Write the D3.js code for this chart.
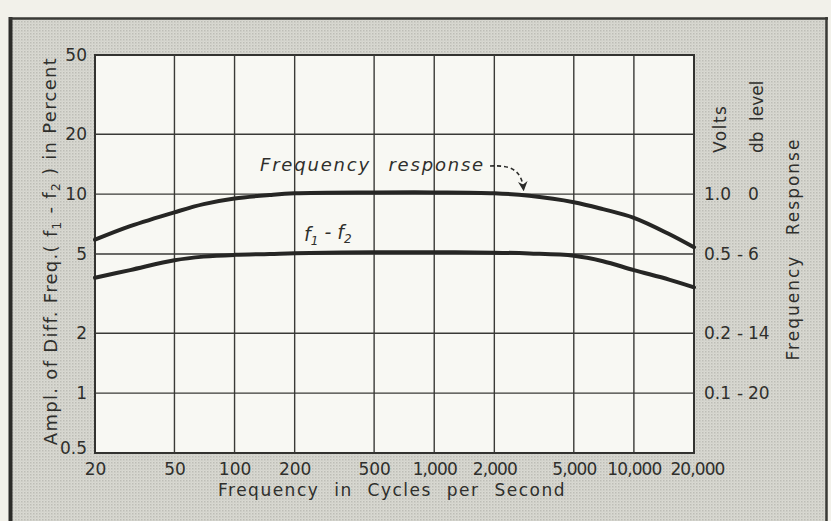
<!DOCTYPE html>
<html>
<head>
<meta charset="utf-8">
<script src="https://cdn.jsdelivr.net/npm/d3@7"></script>
<style>
  html, body { margin: 0; padding: 0; background: #f2f1ea; }
  svg { display: block; }
  text { font-family: "DejaVu Sans", sans-serif; fill: #2f2f2c; }
</style>
</head>
<body>
<svg id="chart" width="831" height="521"></svg>
<script>
// Frequency (cycles per second) at which the two curves were read
const frequencies = [20, 30, 50, 70, 100, 150, 200, 500, 1000, 2000, 3000, 5000, 7000, 10000, 15000, 20000];
// Overall frequency response, percent scale
const responseValues = [5.9, 6.9, 8.1, 8.9, 9.5, 9.9, 10.1, 10.2, 10.2, 10.1, 9.8, 9.1, 8.4, 7.6, 6.3, 5.4];
// Amplitude of the difference frequency f1 - f2, percent
const diffValues = [3.8, 4.15, 4.65, 4.85, 4.95, 5.0, 5.05, 5.1, 5.1, 5.08, 5.03, 4.9, 4.6, 4.15, 3.72, 3.4];

const xTicks = [20, 50, 100, 200, 500, 1000, 2000, 5000, 10000, 20000];
const yTicks = [50, 20, 10, 5, 2, 1, 0.5];
// Right-hand scale: volts and db level at the percent gridlines
const rightTickValues = [10, 5, 2, 1];
const voltLabels = ["1.0", "0.5", "0.2", "0.1"];
const dbLevels = [0, -6, -14, -20];

const svg = d3.select("#chart");
const W = 831, H = 521;

// halftone screen used for the panel tint
const defs = svg.append("defs");
const pat = defs.append("pattern")
  .attr("id", "screen").attr("width", 3).attr("height", 3)
  .attr("patternUnits", "userSpaceOnUse");
pat.append("rect").attr("width", 3).attr("height", 3).attr("fill", "#d9d9d2");
pat.append("rect").attr("x", 0).attr("y", 0).attr("width", 1.5).attr("height", 1.5).attr("fill", "#bdbdb6");
pat.append("rect").attr("x", 1.5).attr("y", 1.5).attr("width", 1).attr("height", 1).attr("fill", "#c9c9c2");

defs.append("marker")
  .attr("id", "arrowhead").attr("viewBox", "0 0 10 10")
  .attr("refX", 8).attr("refY", 5)
  .attr("markerWidth", 6).attr("markerHeight", 6)
  .attr("orient", "auto")
  .append("path").attr("d", "M0,0 L10,5 L0,10 L3,5 Z").attr("fill", "#2a2a28");

// panel
svg.append("rect").attr("x", 11).attr("y", 18.5).attr("width", 815).attr("height", 540)
  .attr("fill", "url(#screen)");
svg.append("line").attr("x1", 10.5).attr("x2", 10.5).attr("y1", 17).attr("y2", H + 5)
  .attr("stroke", "#2b2b28").attr("stroke-width", 4);
svg.append("line").attr("x1", 9).attr("x2", 828).attr("y1", 18.5).attr("y2", 18.5)
  .attr("stroke", "#3a3a36").attr("stroke-width", 2.5);
svg.append("line").attr("x1", 826.5).attr("x2", 826.5).attr("y1", 17).attr("y2", H + 5)
  .attr("stroke", "#3a3a36").attr("stroke-width", 2.5);

const x = d3.scaleLog().domain([20, 20000]).range([95, 694]);
const y = d3.scaleLog().domain([0.5, 50]).range([453, 55]);

// plotting area
svg.append("rect")
  .attr("x", x.range()[0]).attr("y", y.range()[1])
  .attr("width", x.range()[1] - x.range()[0]).attr("height", y.range()[0] - y.range()[1])
  .attr("fill", "#f8f8f3").attr("stroke", "#333330").attr("stroke-width", 2);

// grid
const grid = svg.append("g").attr("stroke", "#3a3a37").attr("stroke-width", 1.4);
grid.selectAll("line.v").data(xTicks.slice(1, -1)).join("line")
  .attr("x1", d => x(d)).attr("x2", d => x(d))
  .attr("y1", y.range()[1]).attr("y2", y.range()[0]);
grid.selectAll("line.h").data(yTicks.slice(1, -1)).join("line")
  .attr("x1", x.range()[0]).attr("x2", x.range()[1])
  .attr("y1", d => y(d)).attr("y2", d => y(d));

// bottom axis labels
const xAxis = d3.axisBottom(x).tickValues(xTicks).tickSize(0).tickPadding(10)
  .tickFormat(d3.format(","));
const gx = svg.append("g").attr("transform", `translate(0,${y.range()[0]})`).call(xAxis);
gx.select(".domain").remove();
gx.selectAll("text").attr("font-size", 17).attr("fill", "#2f2f2c")
  .attr("font-family", "DejaVu Sans, sans-serif")
  .attr("letter-spacing", d => d >= 1000 ? -0.9 : 0);
gx.selectAll(".tick").filter(d => d === 20000).select("text").attr("x", 3);

// left axis labels
const yAxis = d3.axisLeft(y).tickValues(yTicks).tickSize(0).tickPadding(8)
  .tickFormat(d => String(d));
const gy = svg.append("g").attr("transform", `translate(${x.range()[0]},0)`).call(yAxis);
gy.select(".domain").remove();
gy.selectAll("text").attr("font-size", 17).attr("fill", "#2f2f2c")
  .attr("font-family", "DejaVu Sans, sans-serif");
gy.selectAll(".tick").filter(d => d === 0.5).select("text").attr("dy", "0.05em");

// right-hand volts / db scale
const right = svg.append("g");
right.selectAll("text.volt").data(rightTickValues).join("text")
  .attr("class", "volt").attr("x", 704).attr("y", d => y(d)).attr("dy", "0.35em")
  .attr("font-size", 17).text((d, i) => voltLabels[i]);
right.selectAll("text.dbsign").data(rightTickValues.filter((d, i) => dbLevels[i] < 0)).join("text")
  .attr("class", "dbsign").attr("x", 737).attr("y", d => y(d)).attr("dy", "0.35em")
  .attr("font-size", 17).text("-");
right.selectAll("text.db").data(rightTickValues).join("text")
  .attr("class", "db").attr("x", 748).attr("y", d => y(d)).attr("dy", "0.35em")
  .attr("font-size", 17).text((d, i) => Math.abs(dbLevels[i]));

right.append("text").attr("transform", "translate(720,153) rotate(-90)").attr("dy", "0.35em")
  .attr("font-size", 17).attr("letter-spacing", 1.5).text("Volts");
right.append("text").attr("transform", "translate(757,153) rotate(-90)").attr("dy", "0.35em")
  .attr("font-size", 17).attr("word-spacing", 5).text("db level");
right.append("text").attr("transform", "translate(793,249) rotate(-90)").attr("dy", "0.35em")
  .attr("text-anchor", "middle").attr("font-size", 17).attr("letter-spacing", 2)
  .attr("word-spacing", 12).text("Frequency Response");

// axis titles
const ytitle = svg.append("text").attr("transform", "translate(51,251) rotate(-90)")
  .attr("dy", "0.35em").attr("text-anchor", "middle").attr("font-size", 18).attr("letter-spacing", 1.3);
ytitle.append("tspan").text("Ampl. of Diff. Freq.( f");
ytitle.append("tspan").attr("font-size", 12).attr("dy", "0.3em").text("1");
ytitle.append("tspan").attr("dy", "-0.25em").text(" - f");
ytitle.append("tspan").attr("font-size", 12).attr("dy", "0.3em").text("2");
ytitle.append("tspan").attr("dy", "-0.25em").text(" ) in Percent");

svg.append("text").attr("x", 392).attr("y", 490).attr("dy", "0.35em")
  .attr("text-anchor", "middle").attr("font-size", 17).attr("letter-spacing", 1.5)
  .attr("word-spacing", 8).text("Frequency in Cycles per Second");

// curves
const line = d3.line().x((d, i) => x(frequencies[i])).y(d => y(d)).curve(d3.curveCatmullRom.alpha(0.5));
svg.append("path").datum(responseValues).attr("d", line)
  .attr("fill", "none").attr("stroke", "#262624").attr("stroke-width", 4).attr("stroke-linecap", "round");
svg.append("path").datum(diffValues).attr("d", line)
  .attr("fill", "none").attr("stroke", "#262624").attr("stroke-width", 4).attr("stroke-linecap", "round");

// curve labels
svg.append("text").attr("x", 260).attr("y", 165).attr("dy", "0.35em")
  .attr("font-size", 18).attr("font-style", "italic").attr("letter-spacing", 1.8)
  .attr("word-spacing", 10).text("Frequency response");

const arrowF = 2800, arrowV = 10.1;
const ax = x(arrowF), ay = y(arrowV) - 4;
svg.append("path")
  .attr("d", `M490,166 C510,165 ${ax - 2},${ay - 20} ${ax},${ay}`)
  .attr("fill", "none").attr("stroke", "#2a2a28").attr("stroke-width", 1.6)
  .attr("stroke-dasharray", "4,3").attr("marker-end", "url(#arrowhead)");

const fl = svg.append("text").attr("x", 304).attr("y", 241)
  .attr("font-size", 19).attr("font-style", "italic");
fl.append("tspan").text("f");
fl.append("tspan").attr("font-size", 12).attr("dy", "0.3em").text("1");
fl.append("tspan").attr("dy", "-0.3em").text(" - f");
fl.append("tspan").attr("font-size", 12).attr("dy", "0.3em").text("2");
</script>
</body>
</html>
